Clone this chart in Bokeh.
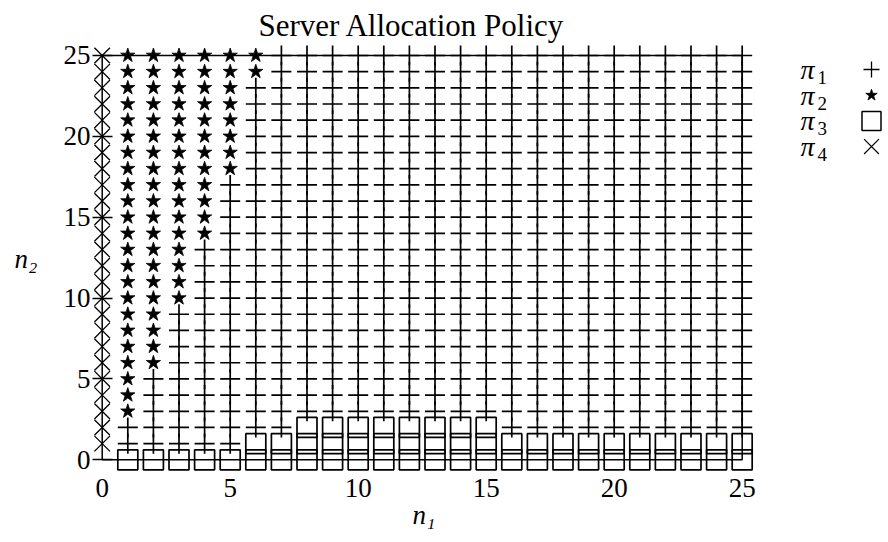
from bokeh.plotting import figure
from bokeh.layouts import row
from bokeh.models import Range1d, FixedTicker, ColumnDataSource
from bokeh.embed import file_html
from bokeh.resources import INLINE
from bokeh.core.properties import value

# ---- state space -----------------------------------------------------------
n1_values = list(range(26))
n2_values = list(range(26))
x_ticks = [0, 5, 10, 15, 20, 25]
y_ticks = [0, 5, 10, 15, 20, 25]

# ---- policy boundaries, one entry per n1 = 0..25 ---------------------------
# lowest n2 from which pi_4 is used (None: never)
pi4_from = [1, None, None, None, None, None, None, None, None, None, None, None, None,
            None, None, None, None, None, None, None, None, None, None, None, None, None]
# lowest n2 from which pi_2 is used (None: never)
pi2_from = [None, 3, 6, 10, 14, 18, 24, None, None, None, None, None, None,
            None, None, None, None, None, None, None, None, None, None, None, None, None]
# highest n2 up to which pi_3 is used (None: never)
pi3_upto = [None, 0, 0, 0, 0, 0, 1, 1, 2, 2, 2, 2, 2,
            2, 2, 2, 1, 1, 1, 1, 1, 1, 1, 1, 1, 1]

policy_keys = ["1", "2", "3", "4"]
policy_markers = ["cross", "star", "square", "x"]

# assign a policy to every state
cells = {k: ([], []) for k in policy_keys}
for i, n1 in enumerate(n1_values):
    for n2 in n2_values:
        if pi4_from[i] is not None:
            if n2 >= pi4_from[i]:
                cells["4"][0].append(n1)
                cells["4"][1].append(n2)
            continue
        if pi3_upto[i] is not None and n2 <= pi3_upto[i]:
            key = "3"
        elif pi2_from[i] is not None and n2 >= pi2_from[i]:
            key = "2"
        else:
            key = "1"
        cells[key][0].append(n1)
        cells[key][1].append(n2)

SERIF = "Liberation Serif"
FRAME_TOP, FRAME_BOTTOM, FRAME_LEFT = 44, 70, 92
W_MAIN, W_LEG, H = 776, 112, 542

p = figure(width=W_MAIN, height=H,
           x_range=Range1d(-0.379, 25.52), y_range=Range1d(-0.785, 25.68),
           toolbar_location=None, output_backend="svg",
           min_border_left=FRAME_LEFT, min_border_right=21,
           min_border_top=FRAME_TOP, min_border_bottom=FRAME_BOTTOM)
p.outline_line_color = None
p.xgrid.visible = False
p.ygrid.visible = False
p.background_fill_color = "white"
p.border_fill_color = "white"

p.title.text = "Server Allocation Policy"
p.title.align = "left"
p.title.offset = 166
p.title.text_font = SERIF
p.title.text_font_size = "31px"
p.title.text_font_style = "normal"
p.title.text_color = "black"
p.title.standoff = 4

# frame of the state space
box_x = [n1_values[0], n1_values[-1], n1_values[-1], n1_values[0], n1_values[0]]
box_y = [n2_values[0], n2_values[0], n2_values[-1], n2_values[-1], n2_values[0]]
p.line(box_x, box_y, line_color="black", line_width=1.5)

styles = {
    "1": dict(size=20, line_width=1.7, fill_color=None),
    "2": dict(size=15, line_width=0.8, fill_color="black"),
    "3": dict(size=20, line_width=1.7, fill_color=None),
    "4": dict(size=22, line_width=1.3, fill_color=None),
}
for key, marker in zip(policy_keys, policy_markers):
    xs, ys = cells[key]
    src = ColumnDataSource(dict(n1=xs, n2=ys))
    p.scatter("n1", "n2", source=src, marker=marker, line_color="black", **styles[key])

# axes
p.xaxis.ticker = FixedTicker(ticks=x_ticks)
p.yaxis.ticker = FixedTicker(ticks=y_ticks)
for ax in (p.xaxis[0], p.yaxis[0]):
    ax.axis_line_color = None
    ax.minor_tick_line_color = None
    ax.major_label_text_font = SERIF
    ax.major_label_text_font_size = "27px"
    ax.major_label_text_color = "black"
    ax.axis_label_text_font = SERIF
    ax.axis_label_text_font_size = "27px"
    ax.axis_label_text_font_style = "italic"
    ax.axis_label_text_color = "black"

p.xaxis.major_tick_line_color = None
p.xaxis.major_label_standoff = 0
p.xaxis.axis_label = "n₁"
p.xaxis.axis_label_standoff = 0

p.yaxis.major_tick_in = 20
p.yaxis.major_tick_out = 0
p.yaxis.major_tick_line_width = 1.5
p.yaxis.major_tick_line_color = "black"
p.yaxis.major_label_standoff = 2
p.yaxis.axis_label = "n₂"
p.yaxis.axis_label_orientation = "horizontal"
p.yaxis.axis_label_standoff = 23

# ---- legend panel (ranges in canvas pixels) ------------------------------------
leg = figure(width=W_LEG, height=H, title=None,
             x_range=Range1d(W_MAIN, W_MAIN + W_LEG),
             y_range=Range1d(H - FRAME_BOTTOM, FRAME_TOP),
             toolbar_location=None, output_backend="svg",
             min_border_left=0, min_border_right=0,
             min_border_top=FRAME_TOP, min_border_bottom=FRAME_BOTTOM)
leg.axis.visible = False
leg.xgrid.visible = False
leg.ygrid.visible = False
leg.outline_line_color = None

row_first, row_gap = 69.0, 25.7
rows_y = [row_first + k * row_gap for k in range(len(policy_keys))]
n = len(policy_keys)
leg.text(x=[800] * n, y=rows_y, text=["π"] * n,
         text_font=value(SERIF), text_font_style="italic", text_font_size="28px",
         text_align="left", text_baseline="alphabetic", text_color="black")
leg.text(x=[817] * n, y=[v + 8 for v in rows_y], text=policy_keys,
         text_font=value(SERIF), text_font_size="19px",
         text_align="left", text_baseline="alphabetic", text_color="black")
leg_src = ColumnDataSource(dict(
    x=[871] * n, y=rows_y, marker=policy_markers,
    size=[16, 12, 19, 21], fill_alpha=[0, 1, 0, 0], lw=[1.3, 0.8, 1.5, 1.2]))
leg.scatter("x", "y", source=leg_src, marker="marker", size="size",
            fill_color="black", fill_alpha="fill_alpha",
            line_color="black", line_width="lw")

layout = row(p, leg)
open("out.html", "w").write(file_html(layout, INLINE))
